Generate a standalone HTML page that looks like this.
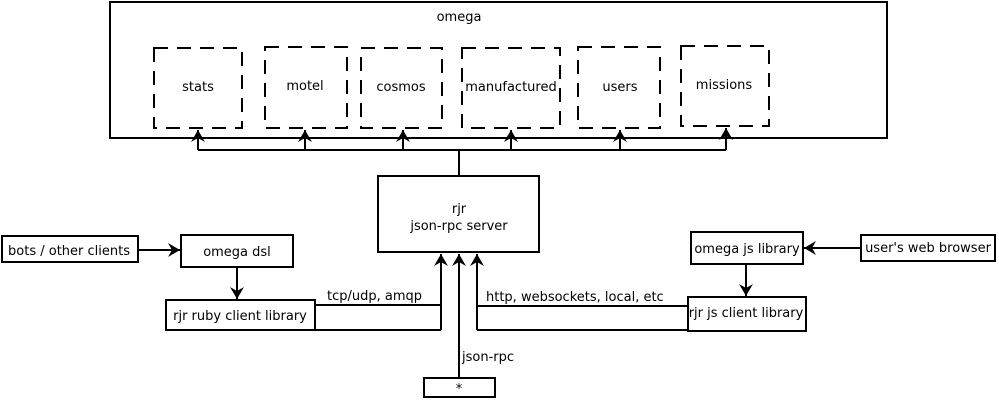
<!DOCTYPE html>
<html><head><style>body{margin:0;background:#fff}svg{display:block}text{font-family:"DejaVu Sans","Liberation Sans",sans-serif;font-size:13px;fill:#000}</style></head>
<body>
<svg width="999" height="401" viewBox="0 0 999 401" xmlns="http://www.w3.org/2000/svg">
<defs><marker id="a" markerWidth="12" markerHeight="14" refX="12" refY="7" orient="auto" markerUnits="userSpaceOnUse"><path d="M0,0 L12,7 L0,14 L4,7 Z" fill="#000" stroke="none"/></marker></defs>
<g fill="none" stroke="#000" stroke-width="2">
<rect x="110" y="2" width="777" height="136"/>
<g stroke-dasharray="14,9">
<rect x="154" y="48" width="88" height="80"/>
<rect x="265" y="47" width="82" height="81"/>
<rect x="361" y="48" width="81" height="80"/>
<rect x="462" y="48" width="98" height="80"/>
<rect x="578" y="47" width="82" height="81"/>
<rect x="681" y="46" width="88" height="80"/>
</g>
<path d="M198,150 H726 M459,150 V176"/>
<g marker-end="url(#a)">
<path d="M198,150 V130"/><path d="M305,150 V130"/><path d="M403,150 V130"/><path d="M511,150 V130"/><path d="M620,150 V130"/><path d="M726,150 V128"/>
<path d="M441,330 V254"/><path d="M459,378 V254"/><path d="M477,330 V254"/>
<path d="M138,250 H180"/><path d="M237,267 V299"/>
<path d="M861,248 H804"/><path d="M746,264 V296"/>
</g>
<rect x="378" y="176" width="161" height="76"/>
<path d="M315,305 H441 M315,330 H441"/>
<path d="M477,306 H688 M477,330 H688"/>
<rect x="424" y="378" width="71" height="19"/>
<rect x="2" y="236" width="136" height="26"/>
<rect x="181" y="235" width="112" height="32"/>
<rect x="166" y="300" width="149" height="30"/>
<rect x="861" y="235" width="134" height="26"/>
<rect x="691" y="232" width="112" height="32"/>
<rect x="688" y="297" width="118" height="34"/>
</g>
<g text-anchor="middle">
<text x="459" y="21">omega</text>
<text x="198" y="91">stats</text>
<text x="305" y="90">motel</text>
<text x="401" y="91">cosmos</text>
<text x="511" y="91">manufactured</text>
<text x="620" y="91">users</text>
<text x="724" y="89">missions</text>
<text x="459" y="213">rjr</text>
<text x="459" y="230">json-rpc server</text>
<text x="69" y="255">bots / other clients</text>
<text x="237" y="256">omega dsl</text>
<text x="240" y="320">rjr ruby client library</text>
<text x="928" y="252">user's web browser</text>
<text x="747" y="253">omega js library</text>
<text x="746" y="317">rjr js client library</text>
<text x="459" y="393">*</text>
</g>
<text x="327" y="300">tcp/udp, amqp</text>
<text x="486" y="301">http, websockets, local, etc</text>
<text x="462" y="361">json-rpc</text>
</svg>
</body></html>
